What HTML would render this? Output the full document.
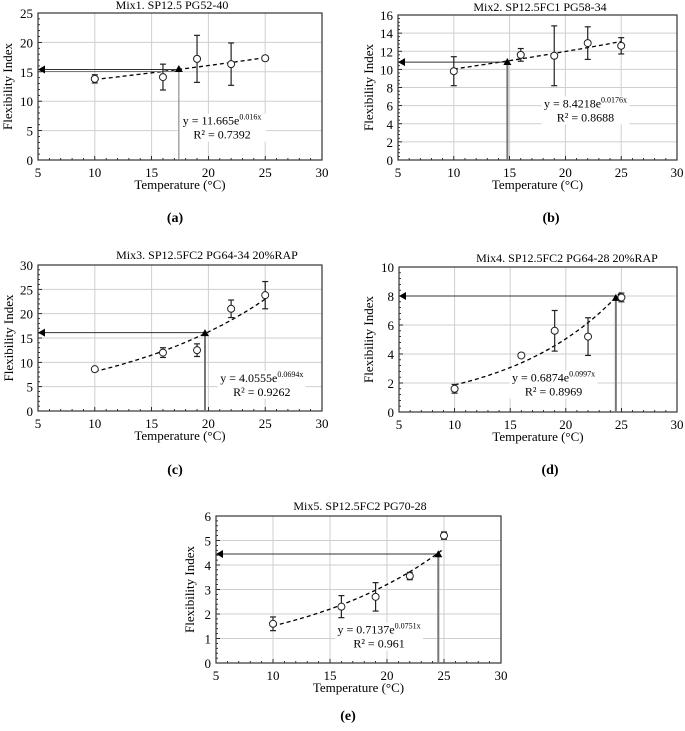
<!DOCTYPE html>
<html><head><meta charset="utf-8"><style>
body{margin:0;background:#fff;width:685px;height:731px;overflow:hidden}
svg{display:block;font-family:"Liberation Serif","DejaVu Serif",serif}
svg text{font-family:"Liberation Serif","DejaVu Serif",serif}
</style></head><body>
<svg id="fig" width="685" height="731" viewBox="0 0 685 731"></svg>
<script>
const temps=[10,16,19,22,25];
const aVals=[13.8,14.1,17.2,16.3,17.3], aErr=[0.7,2.2,4.0,3.6,0.4];
const bVals=[9.8,11.6,11.5,12.9,12.6], bErr=[1.6,0.7,3.3,1.8,0.9];
const cVals=[8.6,12.0,12.5,21.0,23.8], cErr=[0.3,1.0,1.3,1.8,2.8];
const dVals=[1.6,3.9,5.6,5.2,7.9], dErr=[0.3,0.15,1.4,1.3,0.3];
const eVals=[1.6,2.3,2.7,3.55,5.2], eErr=[0.28,0.45,0.58,0.15,0.15];
const xTicks=[5,10,15,20,25,30];
const fitA=[11.665,0.016], fitB=[8.4218,0.0176], fitC=[4.0555,0.0694], fitD=[0.6874,0.0997], fitE=[0.7137,0.0751];
const markA=[17.4,15.3,15.4], markB=[14.8,10.7,10.8], markC=[19.7,15.8,16.1], markD=[24.5,7.8,8.0], markE=[24.5,4.4,4.45];
const NS="http://www.w3.org/2000/svg", svg=document.getElementById('fig');
const FF='"Liberation Serif","DejaVu Serif",serif';
function mk(tag,at,par,txt){const e=document.createElementNS(NS,tag);for(const k in at)e.setAttribute(k,at[k]);if(tag==='text')e.setAttribute('font-family',FF);if(txt!=null)e.textContent=txt;(par||svg).appendChild(e);return e;}
const panels=[
 {id:'a',box:[38,13,322,160],ymax:25,ystep:5,vals:aVals,err:aErr,fit:fitA,mark:markA,title:'Mix1.  SP12.5 PG52-40',tx:172,ty:9,eq:[21.2,6],yt:8,lab:[175,222],eqA:'y = 11.665e',eqB:'0.016x',r2:'R² = 0.7392',dbl:true},
 {id:'b',box:[398,15,677,160],ymax:16,ystep:2,vals:bVals,err:bErr,fit:fitB,mark:markB,title:'Mix2.  SP12.5FC1 PG58-34',tx:540,ty:11,eq:[21.8,5.8],yt:369,lab:[551,222],eqA:'y = 8.4218e',eqB:'0.0176x',r2:'R² = 0.8688'},
 {id:'c',box:[38,265,322,411],ymax:30,ystep:5,vals:cVals,err:cErr,fit:fitC,mark:markC,title:'Mix3.  SP12.5FC2 PG64-34 20%RAP',tx:207,ty:259,eq:[24.7,6],yt:9,lab:[175,474],eqA:'y = 4.0555e',eqB:'0.0694x',r2:'R² = 0.9262'},
 {id:'d',box:[399,267,677,412],ymax:10,ystep:2,vals:dVals,err:dErr,fit:fitD,mark:markD,title:'Mix4.  SP12.5FC2 PG64-28 20%RAP',tx:567,ty:262,eq:[18.9,2.1],yt:369,lab:[550,474],eqA:'y = 0.6874e',eqB:'0.0997x',r2:'R² = 0.8969'},
 {id:'e',box:[216,516,501,663],ymax:6,ystep:1,vals:eVals,err:eErr,fit:fitE,mark:markE,title:'Mix5.  SP12.5FC2 PG70-28',tx:360,ty:510,eq:[19.3,1.2],yt:190,lab:[348,720],eqA:'y = 0.7137e',eqB:'0.0751x',r2:'R² = 0.961'}
];
panels.forEach(p=>{
 const [x0,y0,x1,y1]=p.box;
 const g=mk('g',{});
 
 
 const X=v=>x0+(v-5)/25*(x1-x0), Y=v=>y1-v/p.ymax*(y1-y0);
 for(const t of xTicks){ if(t>5&&t<30) mk('line',{x1:X(t),x2:X(t),y1:y0,y2:y1,stroke:'#cfcfcf','stroke-width':1},g); }
 for(let v=0;v<=p.ymax+1e-9;v+=p.ystep){ if(v>0&&v<p.ymax) mk('line',{x1:x0,x2:x1,y1:Y(v),y2:Y(v),stroke:'#cfcfcf','stroke-width':1},g);
   const t=mk('text',{x:x0-5,y:Y(v)+5,'text-anchor':'end','font-size':13},g,String(v));
   }
 for(let v=5;v<=30;v++) mk('line',{x1:X(v),x2:X(v),y1:y1,y2:y1-(v%5?2:4),stroke:'#000','stroke-width':0.8},g);
 for(let i=0;i<=p.ymax/p.ystep*5;i++){const v=i*p.ystep/5; mk('line',{x1:x0,x2:x0+(i%5?2:4),y1:Y(v),y2:Y(v),stroke:'#000','stroke-width':0.8},g);}
 mk('rect',{x:x0,y:y0,width:x1-x0,height:y1-y0,fill:'none',stroke:'#333','stroke-width':1.2},g);
 for(const t of xTicks){const e=mk('text',{x:X(t),y:y1+17,'text-anchor':'middle','font-size':13},g,String(t));}
 let e=mk('text',{x:(x0+x1)/2,y:y1+29,'text-anchor':'middle','font-size':13},g,'Temperature (°C)');
 
 e=mk('text',{x:p.yt,y:(y0+y1)/2,'text-anchor':'middle','font-size':13,transform:`rotate(-90 ${p.yt} ${(y0+y1)/2})`,dy:4},g,'Flexibility Index');
 
 e=mk('text',{x:p.tx,y:p.ty,'text-anchor':'middle','font-size':12},g,p.title);
 
 e=mk('text',{x:p.lab[0],y:p.lab[1],'text-anchor':'middle','font-size':14,'font-weight':'bold'},g,'('+p.id+')');
 
 const ex=X(p.eq[0]),ey=Y(p.eq[1]);
 mk('rect',{x:ex-44,y:ey-11,width:88,height:28,fill:'#fff'},g);
 let d='';for(let t=10;t<=25.001;t+=0.25){d+=(d?'L':'M')+X(t).toFixed(1)+','+Y(p.fit[0]*Math.exp(p.fit[1]*t)).toFixed(1);}
 e=mk('path',{d,fill:'none',stroke:'#000','stroke-width':1.3,'stroke-dasharray':'4,3'},g);
 
 const [mx,my,hy]=p.mark;
 mk('line',{x1:X(mx),x2:X(mx),y1:Y(my),y2:y1,stroke:'#777','stroke-width':p.id==='a'?1:2},g);
 mk('line',{x1:X(mx),x2:x0+5,y1:Y(hy),y2:Y(hy),stroke:'#333','stroke-width':1},g);
 if(p.dbl) mk('line',{x1:X(mx),x2:x0+5,y1:Y(hy)+2,y2:Y(hy)+2,stroke:'#777','stroke-width':1},g);
 mk('path',{d:`M${x0},${Y(hy)}l7,-4v8z`,fill:'#000'},g);
 e=mk('path',{d:`M${X(mx)},${Y(my)-5}l-4,7h8z`,fill:'#000'},g);
 
 temps.forEach((t,i)=>{const cx=X(t),cy=Y(p.vals[i]),lo=Y(p.vals[i]-p.err[i]),hi=Y(p.vals[i]+p.err[i]);
  mk('line',{x1:cx,x2:cx,y1:lo,y2:hi,stroke:'#222','stroke-width':1.2},g);
  mk('line',{x1:cx-3,x2:cx+3,y1:lo,y2:lo,stroke:'#222','stroke-width':1.2},g);
  mk('line',{x1:cx-3,x2:cx+3,y1:hi,y2:hi,stroke:'#222','stroke-width':1.2},g);
  const c=mk('circle',{cx,cy,r:3.5,fill:'#fff',stroke:'#222','stroke-width':1},g);
  });
 e=mk('text',{x:ex,y:ey,'text-anchor':'middle','font-size':12},g);
 
 mk('tspan',{},e,p.eqA);mk('tspan',{'font-size':8,dy:-5},e,p.eqB);
 e=mk('text',{x:ex,y:ey+14,'text-anchor':'middle','font-size':12},g,p.r2);
 
});
</script>
</body></html>
